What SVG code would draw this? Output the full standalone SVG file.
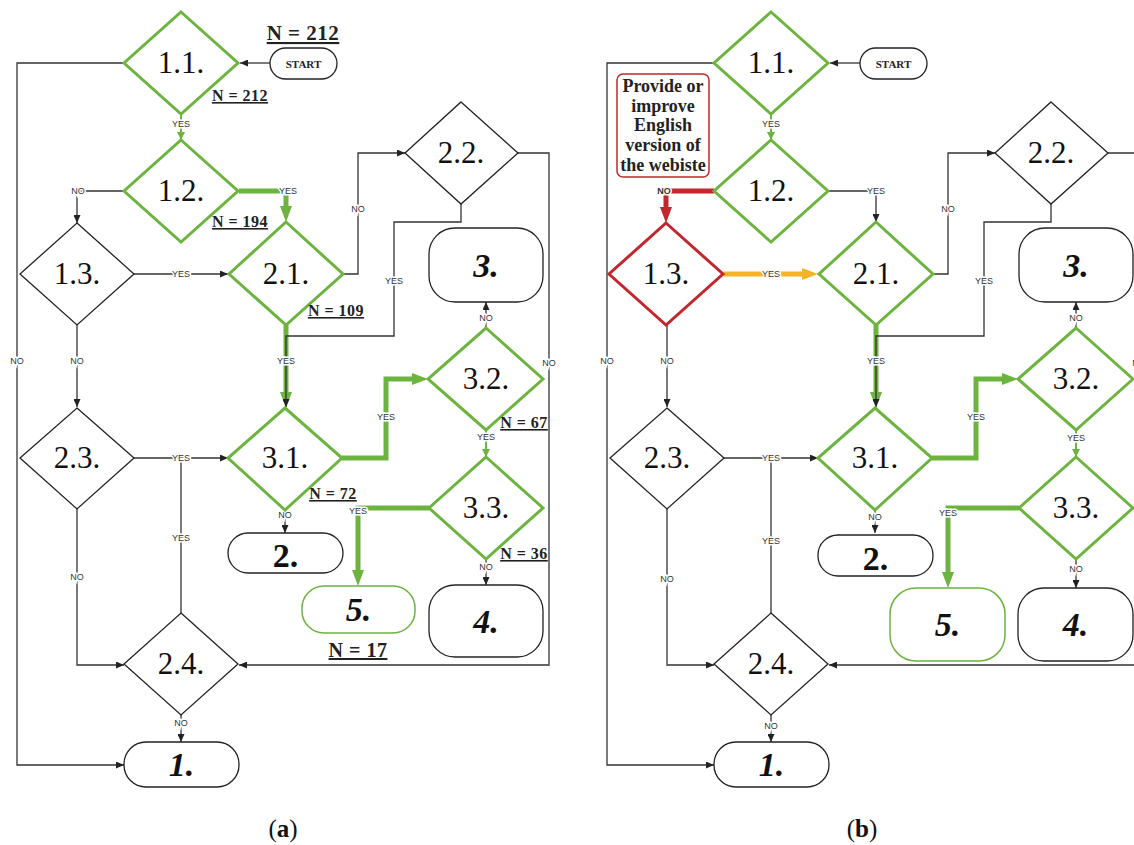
<svg xmlns="http://www.w3.org/2000/svg" width="1134" height="845" viewBox="0 0 1134 845">
<style>
.c{fill:none;stroke:#333;stroke-width:1.3}
.g{fill:none;stroke:#6cb33f;stroke-width:5}
.gt{fill:none;stroke:#6cb33f;stroke-width:2}
.r{fill:none;stroke:#c1272d;stroke-width:5}
.o{fill:none;stroke:#f5b428;stroke-width:5}
.dg{fill:#fff;stroke:#6cb33f;stroke-width:3}
.dk{fill:#fff;stroke:#222;stroke-width:1.3}
.dr{fill:#fff;stroke:#c1272d;stroke-width:3}
.bx{fill:#fff;stroke:#222;stroke-width:1.3}
.bg{fill:#fff;stroke:#6cb33f;stroke-width:1.5}
.dt{font-family:"Liberation Serif",serif;font-size:31px;fill:#111;text-anchor:middle}
.bt{font-family:"Liberation Serif",serif;font-size:34px;font-weight:bold;font-style:italic;fill:#111;text-anchor:middle}
.lb{font-family:"Liberation Sans",sans-serif;font-size:9px;fill:#333;text-anchor:middle;dominant-baseline:central;stroke:#fff;stroke-width:3;paint-order:stroke}
.n{font-family:"Liberation Serif",serif;font-weight:bold;fill:#222;text-anchor:middle;text-decoration:underline;letter-spacing:0.5px}
.st{font-family:"Liberation Serif",serif;font-size:11px;font-weight:bold;fill:#222;text-anchor:middle}
.nt{font-family:"Liberation Serif",serif;font-size:18px;font-weight:bold;fill:#222;text-anchor:middle}
.cap{font-family:"Liberation Serif",serif;font-size:25px;fill:#111;text-anchor:middle}
</style>
<defs>
<marker id="ab" markerUnits="userSpaceOnUse" markerWidth="8" markerHeight="7" refX="8" refY="3.5" orient="auto"><path d="M0,0 L8,3.5 L0,7z" fill="#222"/></marker>
<marker id="ag" markerUnits="userSpaceOnUse" markerWidth="8" markerHeight="8" refX="8" refY="4" orient="auto"><path d="M0,0 L8,4 L0,8z" fill="#6cb33f"/></marker>
<marker id="agb" markerUnits="userSpaceOnUse" markerWidth="16" markerHeight="12" refX="0" refY="6" orient="auto"><path d="M0,0 L16,6 L0,12z" fill="#6cb33f"/></marker>
<marker id="arb" markerUnits="userSpaceOnUse" markerWidth="16" markerHeight="12" refX="0" refY="6" orient="auto"><path d="M0,0 L16,6 L0,12z" fill="#c1272d"/></marker>
<marker id="aob" markerUnits="userSpaceOnUse" markerWidth="16" markerHeight="12" refX="0" refY="6" orient="auto"><path d="M0,0 L16,6 L0,12z" fill="#f5b428"/></marker>
</defs>
<rect width="1134" height="845" fill="#fff"/>

<!-- ================= PANEL A ================= -->
<g id="panel-a">
<g id="a-connectors">
<path class="c" d="M270,63 H240" marker-end="url(#ab)"/>
<path class="gt" d="M181,114 V140" marker-end="url(#ag)"/>
<path class="g" d="M239,191 H286 V206" marker-end="url(#agb)"/>
<path class="c" d="M124,191 H77 V223" marker-end="url(#ab)"/>
<path class="c" d="M134,274 H228" marker-end="url(#ab)"/>
<path class="c" d="M343,274 H358 V153 H405" marker-end="url(#ab)"/>
<path class="g" d="M286,325 V392" marker-end="url(#agb)"/>
<path class="c" d="M461,204 V222 H394 V336 H286 V407" marker-end="url(#ab)"/>
<path class="c" d="M518,153 H549 V665 H239" marker-end="url(#ab)"/>
<path class="c" d="M124,63 H17 V765 H124" marker-end="url(#ab)"/>
<path class="c" d="M77,325 V407" marker-end="url(#ab)"/>
<path class="c" d="M134,458 H228" marker-end="url(#ab)"/>
<path class="c" d="M181,458 V613"/>
<path class="c" d="M77,509 V665 H124" marker-end="url(#ab)"/>
<path class="c" d="M181,715 V742" marker-end="url(#ab)"/>
<path class="c" d="M285,510 V533" marker-end="url(#ab)"/>
<path class="g" d="M342,458 H386 V379 H412" marker-end="url(#agb)"/>
<path class="c" d="M486,328 V302" marker-end="url(#ab)"/>
<path class="gt" d="M486,430 V457" marker-end="url(#ag)"/>
<path class="g" d="M429,508 H358 V570" marker-end="url(#agb)"/>
<path class="c" d="M486,559 V585" marker-end="url(#ab)"/>
<text class="lb" x="181" y="124">YES</text>
<text class="lb" x="288" y="191">YES</text>
<text class="lb" x="78" y="191">NO</text>
<text class="lb" x="181" y="274">YES</text>
<text class="lb" x="358" y="209">NO</text>
<text class="lb" x="286" y="361">YES</text>
<text class="lb" x="394" y="281">YES</text>
<text class="lb" x="549" y="363">NO</text>
<text class="lb" x="17" y="361">NO</text>
<text class="lb" x="77" y="361">NO</text>
<text class="lb" x="181" y="458">YES</text>
<text class="lb" x="181" y="538">YES</text>
<text class="lb" x="77" y="577">NO</text>
<text class="lb" x="181" y="723">NO</text>
<text class="lb" x="285" y="515">NO</text>
<text class="lb" x="386" y="417">YES</text>
<text class="lb" x="486" y="318">NO</text>
<text class="lb" x="486" y="437">YES</text>
<text class="lb" x="358" y="511">YES</text>
<text class="lb" x="486" y="567">NO</text>
</g>
<g id="a-start"><rect class="bx" x="270" y="48" width="67" height="31" rx="15.5"/><text class="st" x="303.5" y="67.5">START</text></g>
<g id="a-n11"><polygon class="dg" points="181,12 238,63 181,114 124,63"/><text class="dt" x="181" y="73">1.1.</text></g>
<g id="a-n12"><polygon class="dg" points="181,140 238,191 181,242 124,191"/><text class="dt" x="181" y="201">1.2.</text></g>
<g id="a-n13"><polygon class="dk" points="77,223 134,274 77,325 20,274"/><text class="dt" x="77" y="284">1.3.</text></g>
<g id="a-n21"><polygon class="dg" points="286,222 343,274 286,325 229,274"/><text class="dt" x="286" y="284">2.1.</text></g>
<g id="a-n22"><polygon class="dk" points="461,102 518,153 461,204 405,153"/><text class="dt" x="461" y="163">2.2.</text></g>
<g id="a-n23"><polygon class="dk" points="77,408 134,458 77,509 20,458"/><text class="dt" x="77" y="468">2.3.</text></g>
<g id="a-n31"><polygon class="dg" points="285,408 342,458 285,510 228,458"/><text class="dt" x="285" y="468">3.1.</text></g>
<g id="a-n32"><polygon class="dg" points="486,328 543,379 486,430 428,379"/><text class="dt" x="486" y="389">3.2.</text></g>
<g id="a-n33"><polygon class="dg" points="486,457 543,508 486,559 429,508"/><text class="dt" x="486" y="518">3.3.</text></g>
<g id="a-n24"><polygon class="dk" points="181,613 238,664 181,715 124,664"/><text class="dt" x="181" y="674">2.4.</text></g>
<g id="a-b3"><rect class="bx" x="429" y="228" width="114" height="74" rx="26"/><text class="bt" x="486" y="277">3.</text></g>
<g id="a-b2"><rect class="bx" x="228" y="533" width="115" height="40" rx="20"/><text class="bt" x="285.5" y="567" style="font-style:normal">2.</text></g>
<g id="a-b5"><rect class="bg" x="302" y="586" width="113" height="47" rx="22"/><text class="bt" x="358.5" y="621">5.</text></g>
<g id="a-b4"><rect class="bx" x="429" y="585" width="114" height="72" rx="26"/><text class="bt" x="486" y="633">4.</text></g>
<g id="a-b1"><rect class="bx" x="124" y="742" width="115" height="45" rx="22"/><text class="bt" x="181.5" y="776">1.</text></g>
<g id="a-counts">
<text class="n" x="303" y="40" font-size="21" letter-spacing="1">N = 212</text>
<text class="n" x="240" y="101" font-size="16">N = 212</text>
<text class="n" x="240" y="227" font-size="16">N = 194</text>
<text class="n" x="336" y="316" font-size="16">N = 109</text>
<text class="n" x="333" y="499" font-size="16">N = 72</text>
<text class="n" x="524" y="428" font-size="16">N = 67</text>
<text class="n" x="524" y="559" font-size="16">N = 36</text>
<text class="n" x="358" y="657" font-size="20">N = 17</text>
</g>
<text class="cap" x="283" y="837">(<tspan font-weight="bold">a</tspan>)</text>
</g>

<!-- ================= PANEL B ================= -->
<g id="panel-b" transform="translate(590,0)">
<g id="b-connectors">
<path class="c" d="M270,63 H240" marker-end="url(#ab)"/>
<path class="gt" d="M181,114 V140" marker-end="url(#ag)"/>
<path class="c" d="M239,191 H286 V222" marker-end="url(#ab)"/>
<path class="r" d="M124,191 H76 V207" marker-end="url(#arb)"/>
<path class="o" d="M134,274 H212" marker-end="url(#aob)"/>
<path class="c" d="M343,274 H358 V153 H405" marker-end="url(#ab)"/>
<path class="g" d="M286,325 V392" marker-end="url(#agb)"/>
<path class="c" d="M461,204 V222 H394 V336 H286 V407" marker-end="url(#ab)"/>
<path class="c" d="M518,153 H549 V665 H239" marker-end="url(#ab)"/>
<path class="c" d="M124,63 H17 V765 H124" marker-end="url(#ab)"/>
<path class="c" d="M77,325 V407" marker-end="url(#ab)"/>
<path class="c" d="M134,458 H228" marker-end="url(#ab)"/>
<path class="c" d="M181,458 V613"/>
<path class="c" d="M77,509 V665 H124" marker-end="url(#ab)"/>
<path class="c" d="M181,715 V742" marker-end="url(#ab)"/>
<path class="c" d="M285,510 V533" marker-end="url(#ab)"/>
<path class="g" d="M342,458 H386 V379 H412" marker-end="url(#agb)"/>
<path class="c" d="M486,328 V302" marker-end="url(#ab)"/>
<path class="gt" d="M486,430 V457" marker-end="url(#ag)"/>
<path class="g" d="M429,508 H358 V572" marker-end="url(#agb)"/>
<path class="c" d="M486,559 V588" marker-end="url(#ab)"/>
<text class="lb" x="181" y="124">YES</text>
<text class="lb" x="286" y="191">YES</text>
<text class="lb" x="74" y="191" font-weight="bold" fill="#111">NO</text>
<text class="lb" x="181" y="274">YES</text>
<text class="lb" x="358" y="209">NO</text>
<text class="lb" x="286" y="361">YES</text>
<text class="lb" x="394" y="281">YES</text>
<text class="lb" x="549" y="363">NO</text>
<text class="lb" x="17" y="361">NO</text>
<text class="lb" x="77" y="361">NO</text>
<text class="lb" x="181" y="458">YES</text>
<text class="lb" x="181" y="541">YES</text>
<text class="lb" x="77" y="579">NO</text>
<text class="lb" x="181" y="726">NO</text>
<text class="lb" x="285" y="517">NO</text>
<text class="lb" x="386" y="417">YES</text>
<text class="lb" x="486" y="318">NO</text>
<text class="lb" x="486" y="438">YES</text>
<text class="lb" x="358" y="513">YES</text>
<text class="lb" x="486" y="569">NO</text>
</g>
<g id="b-note"><rect fill="#fff" stroke="#c1272d" stroke-width="1.5" x="27" y="74" width="92" height="103" rx="6"/>
<text class="nt" x="73" y="92">Provide or</text>
<text class="nt" x="73" y="112">improve</text>
<text class="nt" x="73" y="131">English</text>
<text class="nt" x="73" y="151">version of</text>
<text class="nt" x="73" y="171">the webiste</text>
</g>
<g id="b-start"><rect class="bx" x="270" y="48" width="67" height="31" rx="15.5"/><text class="st" x="303.5" y="67.5">START</text></g>
<g id="b-n11"><polygon class="dg" points="181,12 238,63 181,114 124,63"/><text class="dt" x="181" y="73">1.1.</text></g>
<g id="b-n12"><polygon class="dg" points="181,140 238,191 181,242 124,191"/><text class="dt" x="181" y="201">1.2.</text></g>
<g id="b-n13"><polygon class="dr" points="76,223 133,274 76,325 19,274"/><text class="dt" x="76" y="284">1.3.</text></g>
<g id="b-n21"><polygon class="dg" points="286,222 343,274 286,325 229,274"/><text class="dt" x="286" y="284">2.1.</text></g>
<g id="b-n22"><polygon class="dk" points="461,102 518,153 461,204 405,153"/><text class="dt" x="461" y="163">2.2.</text></g>
<g id="b-n23"><polygon class="dk" points="77,408 134,458 77,509 20,458"/><text class="dt" x="77" y="468">2.3.</text></g>
<g id="b-n31"><polygon class="dg" points="285,408 342,458 285,510 228,458"/><text class="dt" x="285" y="468">3.1.</text></g>
<g id="b-n32"><polygon class="dg" points="486,328 543,379 486,430 428,379"/><text class="dt" x="486" y="389">3.2.</text></g>
<g id="b-n33"><polygon class="dg" points="486,457 543,508 486,559 429,508"/><text class="dt" x="486" y="518">3.3.</text></g>
<g id="b-n24"><polygon class="dk" points="181,613 238,664 181,715 124,664"/><text class="dt" x="181" y="674">2.4.</text></g>
<g id="b-b3"><rect class="bx" x="429" y="228" width="114" height="74" rx="26"/><text class="bt" x="486" y="277">3.</text></g>
<g id="b-b2"><rect class="bx" x="228" y="535" width="115" height="41" rx="20"/><text class="bt" x="285.5" y="570" style="font-style:normal">2.</text></g>
<g id="b-b5"><rect class="bg" x="300" y="588" width="115" height="73" rx="26"/><text class="bt" x="357.5" y="636">5.</text></g>
<g id="b-b4"><rect class="bx" x="428" y="588" width="115" height="73" rx="26"/><text class="bt" x="485.5" y="636">4.</text></g>
<g id="b-b1"><rect class="bx" x="124" y="742" width="115" height="45" rx="22"/><text class="bt" x="181.5" y="776">1.</text></g>
<text class="cap" x="272" y="837">(<tspan font-weight="bold">b</tspan>)</text>
</g>
</svg>
